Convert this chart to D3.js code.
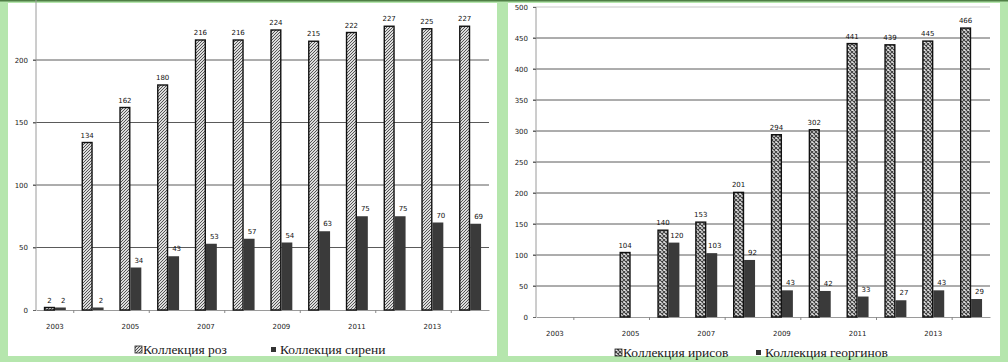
<!DOCTYPE html>
<html>
<head>
<meta charset="utf-8">
<script src="https://cdn.jsdelivr.net/npm/d3@7"></script>
<style>
  body { margin: 0; background: #b5e6ad; }
  svg { display: block; }
</style>
</head>
<body>
<svg id="chart" width="1008" height="362"></svg>
<script>
// years shown on both charts
const years = ["2003","2004","2005","2006","2007","2008","2009","2010","2011","2012","2013","2014"];
const yearLabels = ["2003","2005","2007","2009","2011","2013"];

// left chart
const roses = [2, 134, 162, 180, 216, 216, 224, 215, 222, 227, 225, 227];
const lilacs = [2, 2, 34, 43, 53, 57, 54, 63, 75, 75, 70, 69];
const leftTicks = [0, 50, 100, 150, 200];

// right chart (null = no bar)
const irises = [null, null, 104, 140, 153, 201, 294, 302, 441, 439, 445, 466];
const dahlias = [null, null, null, 120, 103, 92, 43, 42, 33, 27, 43, 29];
const rightTicks = [0, 50, 100, 150, 200, 250, 300, 350, 400, 450, 500];

const svg = d3.select("#chart");

// green frame + white panels
svg.append("rect").attr("x", 0).attr("y", 0).attr("width", 1008).attr("height", 1.5).attr("fill", "#4f7f45");
svg.append("rect").attr("x", 8).attr("y", 3).attr("width", 489).attr("height", 353).attr("fill", "#fff");
svg.append("rect").attr("x", 508).attr("y", 3).attr("width", 492).attr("height", 353).attr("fill", "#fff");

// fill patterns
const defs = svg.append("defs");
const diag = defs.append("pattern").attr("id", "diag")
    .attr("patternUnits", "userSpaceOnUse").attr("width", 3).attr("height", 3);
diag.append("rect").attr("width", 3).attr("height", 3).attr("fill", "#dcdcdc");
diag.append("path").attr("d", "M-1,1 L1,-1 M0,3 L3,0 M2,4 L4,2")
    .attr("stroke", "#555").attr("stroke-width", 1);

const cross = defs.append("pattern").attr("id", "cross")
    .attr("patternUnits", "userSpaceOnUse").attr("width", 4).attr("height", 4);
cross.append("rect").attr("width", 4).attr("height", 4).attr("fill", "#e4e4e4");
cross.append("path").attr("d", "M0,0 L4,4 M4,0 L0,4")
    .attr("stroke", "#404040").attr("stroke-width", 1.1);

function drawChart(opt) {
    const g = svg.append("g");
    const x0 = d3.scaleBand().domain(years).range([opt.left, opt.right])
        .paddingInner(0.42).paddingOuter(0.21);
    const x1 = d3.scaleBand().domain([0, 1]).range([0, x0.bandwidth()]);
    const y = d3.scaleLinear().domain([0, opt.max]).range([opt.bottom, opt.top]);

    // grid lines
    g.selectAll(".grid").data(opt.ticks.filter(d => d > 0)).join("line")
        .attr("x1", opt.left - 3).attr("x2", opt.right)
        .attr("y1", d => y(d)).attr("y2", d => y(d))
        .attr("stroke", d => d === opt.max ? "#c8c8c8" : "#5a5a5a").attr("stroke-width", 1);

    // y axis
    const yAxis = d3.axisLeft(y).tickValues(opt.ticks).tickSize(3).tickPadding(5);
    const ya = g.append("g").attr("transform", `translate(${opt.left},0)`).call(yAxis);
    ya.select(".domain").attr("stroke", "#9a9a9a").attr("d", `M0,${opt.bottom}V${opt.top < 0 ? 0 : opt.top}`);
    ya.selectAll("text").attr("font-family", "DejaVu Sans, sans-serif").attr("font-size", 7).attr("fill", "#222");
    ya.selectAll("line").attr("stroke", "#666");

    // x axis
    const xa = g.append("g").attr("transform", `translate(0,${opt.bottom})`)
        .call(d3.axisBottom(x0).tickValues(yearLabels).tickSize(0).tickPadding(opt.labelPad));
    xa.select(".domain").attr("stroke", "#9a9a9a");
    xa.selectAll("text").attr("font-family", "DejaVu Sans, sans-serif").attr("font-size", 7).attr("fill", "#222");
    g.selectAll(".xt").data(years.filter((d, i) => i % 2 === 1)).join("line")
        .attr("x1", d => x0(d) - x0.step() * 0.21).attr("x2", d => x0(d) - x0.step() * 0.21)
        .attr("y1", opt.bottom).attr("y2", opt.bottom + 3).attr("stroke", "#888");

    // bars
    const series = [
        { values: opt.a, fill: opt.pattern, stroke: "#111" },
        { values: opt.b, fill: "#3a3a3a", stroke: "none" }
    ];
    series.forEach((s, si) => {
        const data = years.map((yr, i) => ({ yr, v: s.values[i] })).filter(d => d.v !== null);
        g.selectAll(null).data(data).join("rect")
            .attr("x", d => x0(d.yr) + x1(si) + (s.stroke === "none" ? 0 : 0.6))
            .attr("y", d => y(d.v))
            .attr("width", x1.bandwidth() - (s.stroke === "none" ? 0 : 1.2))
            .attr("height", d => y(0) - y(d.v))
            .attr("fill", s.fill)
            .attr("stroke", s.stroke).attr("stroke-width", 1.4);
        g.selectAll(null).data(data).join("text")
            .attr("x", d => x0(d.yr) + x1(si) + x1.bandwidth() / 2 + (si === 1 ? 3 : 0))
            .attr("y", d => y(d.v) - 5)
            .attr("text-anchor", "middle")
            .attr("font-family", "DejaVu Sans, sans-serif").attr("font-size", 7).attr("fill", "#111")
            .text(d => d.v);
    });

    // legend
    const lg = g.append("g").attr("font-family", "Liberation Serif, serif").attr("font-size", 13.5).attr("fill", "#1a1a1a");
    lg.append("rect").attr("x", opt.legA).attr("y", opt.legY - 8).attr("width", 7).attr("height", 7)
        .attr("fill", opt.pattern).attr("stroke", "#222").attr("stroke-width", 0.8);
    lg.append("text").attr("x", opt.legA + 8).attr("y", opt.legY).text(opt.nameA);
    lg.append("rect").attr("x", opt.legB).attr("y", opt.legY - 7).attr("width", 5).attr("height", 5).attr("fill", "#333");
    lg.append("text").attr("x", opt.legB + 9).attr("y", opt.legY).text(opt.nameB);
}

drawChart({
    left: 36, right: 489, top: -2.5, bottom: 310, max: 250, ticks: leftTicks,
    a: roses, b: lilacs, pattern: "url(#diag)", labelPad: 14,
    legY: 354, legA: 135, legB: 271, nameA: "Коллекция роз", nameB: "Коллекция сирени"
});

drawChart({
    left: 536, right: 990, top: 7, bottom: 317, max: 500, ticks: rightTicks,
    a: irises, b: dahlias, pattern: "url(#cross)", labelPad: 14,
    legY: 357, legA: 615, legB: 756, nameA: "Коллекция ирисов", nameB: "Коллекция георгинов"
});
</script>
</body>
</html>
